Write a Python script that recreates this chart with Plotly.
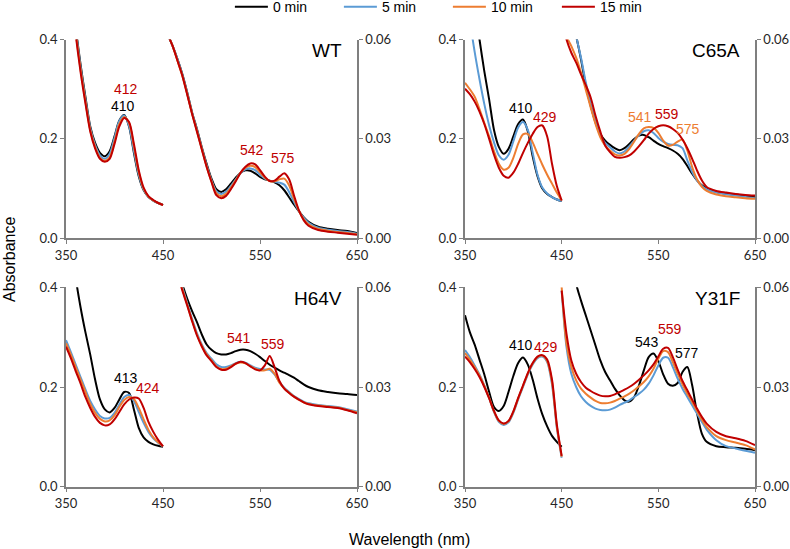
import plotly.graph_objects as go

# ---------------- data ----------------
WL_SORET = [350, 355, 360, 365, 370, 375, 380, 385, 390, 395, 400, 405, 410, 415, 420, 425, 430, 435, 440, 445, 450]
WL_VIS = [450, 455, 460, 465, 470, 475, 480, 485, 490, 495, 500, 505, 510, 515, 520, 525, 530, 535, 540, 545,
          550, 555, 560, 565, 570, 575, 580, 585, 590, 595, 600, 610, 620, 630, 640, 650]

SERIES = ["0 min", "5 min", "10 min", "15 min"]
COLORS = ["#000000", "#5B9BD5", "#ED7D31", "#C00000"]
PANELS = ["WT", "C65A", "H64V", "Y31F"]

X_TICKS = [350, 450, 550, 650]
YL_TICKS = [0, 0.2, 0.4]
YL_LABELS = ["0.0", "0.2", "0.4"]
YR_TICKS = [0, 0.03, 0.06]
YR_LABELS = ["0.00", "0.03", "0.06"]

# WT
WT_S0 = [0.62, 0.52, 0.425, 0.35, 0.285, 0.225, 0.192, 0.172, 0.165, 0.175, 0.205, 0.237, 0.248, 0.225, 0.172, 0.125, 0.097, 0.083, 0.076, 0.071, 0.067]
WT_S5 = [0.62, 0.51, 0.42, 0.345, 0.28, 0.222, 0.188, 0.167, 0.160, 0.170, 0.202, 0.236, 0.247, 0.226, 0.176, 0.128, 0.098, 0.083, 0.076, 0.071, 0.067]
WT_S10 = [0.61, 0.50, 0.415, 0.34, 0.276, 0.218, 0.184, 0.162, 0.156, 0.163, 0.194, 0.230, 0.244, 0.232, 0.185, 0.133, 0.100, 0.084, 0.076, 0.071, 0.067]
WT_S15 = [0.60, 0.50, 0.41, 0.335, 0.272, 0.215, 0.181, 0.160, 0.154, 0.160, 0.190, 0.225, 0.242, 0.234, 0.190, 0.137, 0.102, 0.085, 0.077, 0.071, 0.067]
WT_V0 = [0.066, 0.0615, 0.058, 0.054, 0.0495, 0.044, 0.038, 0.033, 0.0275, 0.0225, 0.0180, 0.0148, 0.0140, 0.0148, 0.0165, 0.0183, 0.0198, 0.0205, 0.0204, 0.0196,
         0.0185, 0.0178, 0.0174, 0.0169, 0.0160, 0.0145, 0.0124, 0.0102, 0.0082, 0.0064, 0.0050, 0.0035, 0.0029, 0.0025, 0.0022, 0.0016]
WT_V5 = [0.066, 0.0615, 0.058, 0.054, 0.0493, 0.0438, 0.0378, 0.0327, 0.0272, 0.0220, 0.0175, 0.0142, 0.0134, 0.0141, 0.0158, 0.0178, 0.0197, 0.0208, 0.0211, 0.0206,
         0.0192, 0.0180, 0.0174, 0.0171, 0.0168, 0.0162, 0.0140, 0.0110, 0.0083, 0.0062, 0.0047, 0.0032, 0.0026, 0.0022, 0.0019, 0.0014]
WT_V10 = [0.066, 0.0615, 0.058, 0.0535, 0.049, 0.0435, 0.0376, 0.0324, 0.0270, 0.0217, 0.0172, 0.0136, 0.0127, 0.0134, 0.0153, 0.0175, 0.0198, 0.0213, 0.0219, 0.0215,
          0.0199, 0.0183, 0.0173, 0.0172, 0.0178, 0.0180, 0.0160, 0.0120, 0.0084, 0.0058, 0.0042, 0.0028, 0.0023, 0.0019, 0.0016, 0.0012]
WT_V15 = [0.066, 0.0615, 0.058, 0.0535, 0.049, 0.0433, 0.0375, 0.0322, 0.0268, 0.0215, 0.0170, 0.0130, 0.0121, 0.0128, 0.0148, 0.0172, 0.0198, 0.0216, 0.0226, 0.0223,
          0.0206, 0.0186, 0.0173, 0.0174, 0.0186, 0.0196, 0.0178, 0.0130, 0.0085, 0.0055, 0.0038, 0.0025, 0.0020, 0.0017, 0.0014, 0.0011]

# C65A
C65A_S0 = [0.70, 0.58, 0.47, 0.40, 0.336, 0.279, 0.218, 0.184, 0.170, 0.180, 0.205, 0.230, 0.239, 0.215, 0.165, 0.125, 0.100, 0.089, 0.083, 0.078, 0.075]
C65A_S5 = [0.52, 0.44, 0.375, 0.32, 0.27, 0.227, 0.193, 0.167, 0.158, 0.168, 0.195, 0.223, 0.234, 0.218, 0.172, 0.128, 0.102, 0.090, 0.083, 0.078, 0.075]
C65A_S10 = [0.313, 0.300, 0.285, 0.26, 0.232, 0.205, 0.175, 0.150, 0.138, 0.142, 0.162, 0.190, 0.209, 0.210, 0.193, 0.170, 0.148, 0.128, 0.110, 0.092, 0.076]
C65A_S15 = [0.301, 0.290, 0.275, 0.255, 0.230, 0.200, 0.168, 0.142, 0.126, 0.122, 0.132, 0.150, 0.172, 0.192, 0.210, 0.224, 0.227, 0.205, 0.150, 0.105, 0.076]
C65A_V0 = [0.085, 0.075, 0.067, 0.061, 0.054, 0.046, 0.040, 0.035, 0.0315, 0.0295, 0.0282, 0.0272, 0.0266, 0.0272, 0.0285, 0.0300, 0.0310, 0.0312, 0.0305, 0.0295,
           0.0285, 0.0278, 0.0272, 0.0265, 0.0255, 0.0240, 0.0218, 0.0195, 0.0175, 0.0160, 0.0150, 0.0140, 0.0135, 0.0132, 0.0128, 0.0124]
C65A_V5 = [0.088, 0.077, 0.068, 0.061, 0.0545, 0.047, 0.0405, 0.0355, 0.031, 0.0288, 0.0275, 0.0262, 0.0256, 0.0262, 0.0277, 0.0295, 0.0312, 0.0323, 0.0326, 0.0318,
           0.0303, 0.0292, 0.0285, 0.0282, 0.0281, 0.0272, 0.0235, 0.0200, 0.0175, 0.0158, 0.0148, 0.0138, 0.0133, 0.0129, 0.0125, 0.0121]
C65A_V10 = [0.070, 0.061, 0.058, 0.0545, 0.050, 0.0448, 0.0395, 0.0345, 0.0305, 0.028, 0.0265, 0.0253, 0.0250, 0.0255, 0.0270, 0.0292, 0.0315, 0.0332, 0.0336, 0.0333,
            0.0318, 0.0295, 0.0280, 0.0282, 0.0292, 0.0298, 0.0265, 0.0215, 0.0178, 0.0155, 0.0143, 0.0132, 0.0127, 0.0124, 0.0121, 0.0119]
C65A_V15 = [0.066, 0.060, 0.056, 0.053, 0.0495, 0.0462, 0.0425, 0.037, 0.0322, 0.028, 0.0260, 0.0246, 0.0243, 0.0245, 0.0250, 0.0262, 0.0278, 0.0296, 0.0316, 0.0330,
            0.0338, 0.0341, 0.0338, 0.0330, 0.0318, 0.0298, 0.0272, 0.0240, 0.0205, 0.0175, 0.0155, 0.0143, 0.0138, 0.0134, 0.0131, 0.0129]

# H64V
H64V_S0 = [0.65, 0.53, 0.42, 0.36, 0.31, 0.265, 0.215, 0.175, 0.155, 0.149, 0.158, 0.175, 0.190, 0.188, 0.155, 0.118, 0.099, 0.090, 0.085, 0.082, 0.080]
H64V_S5 = [0.294, 0.27, 0.245, 0.22, 0.195, 0.172, 0.155, 0.142, 0.137, 0.138, 0.148, 0.165, 0.180, 0.184, 0.172, 0.150, 0.128, 0.110, 0.097, 0.088, 0.081]
H64V_S10 = [0.288, 0.265, 0.240, 0.215, 0.19, 0.166, 0.148, 0.136, 0.131, 0.133, 0.143, 0.160, 0.174, 0.180, 0.176, 0.158, 0.135, 0.114, 0.099, 0.089, 0.081]
H64V_S15 = [0.281, 0.258, 0.232, 0.207, 0.18, 0.158, 0.140, 0.128, 0.123, 0.125, 0.135, 0.150, 0.165, 0.175, 0.179, 0.177, 0.158, 0.130, 0.110, 0.094, 0.081]
H64V_V0 = [0.095, 0.085, 0.076, 0.068, 0.061, 0.0565, 0.0528, 0.0495, 0.0458, 0.0428, 0.0412, 0.0402, 0.0398, 0.0398, 0.0402, 0.0408, 0.0412, 0.0412, 0.0408, 0.0400,
           0.0390, 0.0378, 0.0367, 0.0358, 0.0350, 0.0343, 0.0336, 0.0328, 0.0318, 0.0308, 0.0300, 0.0290, 0.0285, 0.0281, 0.0279, 0.0276]
H64V_V5 = [0.090, 0.080, 0.072, 0.066, 0.060, 0.0552, 0.0505, 0.0462, 0.0428, 0.0402, 0.0385, 0.0368, 0.0360, 0.0360, 0.0365, 0.0372, 0.0376, 0.0373, 0.0365, 0.0358,
           0.0354, 0.0353, 0.0352, 0.0338, 0.0315, 0.0298, 0.0285, 0.0273, 0.0264, 0.0256, 0.0251, 0.0246, 0.0243, 0.0240, 0.0233, 0.0226]
H64V_V10 = [0.089, 0.079, 0.071, 0.065, 0.0595, 0.0548, 0.0500, 0.0458, 0.0424, 0.0398, 0.0380, 0.0362, 0.0354, 0.0355, 0.0362, 0.0370, 0.0374, 0.0371, 0.0363, 0.0355,
            0.0350, 0.0350, 0.0355, 0.0340, 0.0313, 0.0296, 0.0283, 0.0271, 0.0262, 0.0254, 0.0249, 0.0244, 0.0241, 0.0238, 0.0231, 0.0224]
H64V_V15 = [0.088, 0.078, 0.070, 0.064, 0.059, 0.0545, 0.0498, 0.0455, 0.0422, 0.0395, 0.0378, 0.0360, 0.0352, 0.0352, 0.0360, 0.0370, 0.0376, 0.0372, 0.0362, 0.0353,
            0.0350, 0.0365, 0.0393, 0.0360, 0.0318, 0.0295, 0.0282, 0.0271, 0.0262, 0.0254, 0.0248, 0.0243, 0.0240, 0.0237, 0.0230, 0.0221]

# Y31F
Y31F_S0 = [0.344, 0.31, 0.285, 0.255, 0.225, 0.19, 0.16, 0.152, 0.162, 0.190, 0.222, 0.248, 0.259, 0.245, 0.215, 0.177, 0.145, 0.121, 0.102, 0.090, 0.080]
Y31F_S5 = [0.274, 0.26, 0.243, 0.225, 0.203, 0.178, 0.150, 0.130, 0.124, 0.129, 0.148, 0.175, 0.200, 0.225, 0.245, 0.258, 0.261, 0.250, 0.205, 0.118, 0.058]
Y31F_S10 = [0.268, 0.255, 0.240, 0.223, 0.202, 0.178, 0.151, 0.132, 0.126, 0.131, 0.150, 0.177, 0.202, 0.227, 0.247, 0.260, 0.263, 0.252, 0.210, 0.121, 0.060]
Y31F_S15 = [0.261, 0.25, 0.236, 0.22, 0.20, 0.177, 0.152, 0.133, 0.127, 0.132, 0.151, 0.178, 0.203, 0.228, 0.248, 0.261, 0.264, 0.255, 0.215, 0.125, 0.062]
Y31F_V0 = [0.095, 0.080, 0.070, 0.061, 0.056, 0.0515, 0.047, 0.0425, 0.038, 0.0345, 0.032, 0.0295, 0.0275, 0.0260, 0.0256, 0.0270, 0.0305, 0.0350, 0.0390, 0.0401,
           0.0378, 0.0338, 0.0310, 0.0304, 0.0312, 0.0345, 0.0360, 0.0305, 0.0222, 0.0160, 0.0135, 0.0122, 0.0119, 0.0117, 0.0114, 0.0110]
Y31F_V5 = [0.059, 0.042, 0.034, 0.030, 0.0272, 0.0255, 0.0243, 0.0235, 0.0231, 0.0230, 0.0232, 0.0238, 0.0246, 0.0253, 0.0260, 0.0270, 0.0280, 0.0292, 0.0310, 0.0335,
           0.0365, 0.0388, 0.0388, 0.0360, 0.0325, 0.0295, 0.0270, 0.0245, 0.0220, 0.0195, 0.0172, 0.0140, 0.0122, 0.0115, 0.0108, 0.0102]
Y31F_V10 = [0.060, 0.043, 0.036, 0.032, 0.0295, 0.0280, 0.0268, 0.0258, 0.0252, 0.0251, 0.0253, 0.0258, 0.0265, 0.0272, 0.0280, 0.0290, 0.0302, 0.0315, 0.0332, 0.0355,
            0.0385, 0.0408, 0.0405, 0.0375, 0.0340, 0.0308, 0.0280, 0.0255, 0.0228, 0.0202, 0.0180, 0.0152, 0.0140, 0.0133, 0.0125, 0.0112]
Y31F_V15 = [0.059, 0.046, 0.038, 0.034, 0.0315, 0.0298, 0.0288, 0.0280, 0.0274, 0.0272, 0.0273, 0.0278, 0.0285, 0.0292, 0.0300, 0.0310, 0.0322, 0.0335, 0.0350, 0.0368,
            0.0392, 0.0415, 0.0418, 0.0390, 0.0352, 0.0318, 0.0290, 0.0262, 0.0235, 0.0210, 0.0190, 0.0165, 0.0152, 0.0146, 0.0138, 0.0125]

SORET = {"WT": [WT_S0, WT_S5, WT_S10, WT_S15], "C65A": [C65A_S0, C65A_S5, C65A_S10, C65A_S15],
         "H64V": [H64V_S0, H64V_S5, H64V_S10, H64V_S15], "Y31F": [Y31F_S0, Y31F_S5, Y31F_S10, Y31F_S15]}
VIS = {"WT": [WT_V0, WT_V5, WT_V10, WT_V15], "C65A": [C65A_V0, C65A_V5, C65A_V10, C65A_V15],
       "H64V": [H64V_V0, H64V_V5, H64V_V10, H64V_V15], "Y31F": [Y31F_V0, Y31F_V5, Y31F_V10, Y31F_V15]}

# peak labels: (panel, wavelength, left-axis height, text, series index for colour)
PEAK_LABELS = [
    ("WT", 411.9, 0.300, "412", 3), ("WT", 408.8, 0.266, "410", 0),
    ("WT", 541.4, 0.177, "542", 3), ("WT", 573.4, 0.162, "575", 3),
    ("C65A", 407.8, 0.262, "410", 0), ("C65A", 433.0, 0.245, "429", 3),
    ("C65A", 531.0, 0.245, "541", 2), ("C65A", 558.7, 0.250, "559", 3), ("C65A", 580.8, 0.220, "575", 2),
    ("H64V", 411.9, 0.2175, "413", 0), ("H64V", 434.8, 0.199, "424", 3),
    ("H64V", 528.4, 0.299, "541", 3), ("H64V", 563.1, 0.286, "559", 3),
    ("Y31F", 408.1, 0.284, "410", 0), ("Y31F", 433.4, 0.280, "429", 3),
    ("Y31F", 537.9, 0.291, "543", 0), ("Y31F", 562.1, 0.316, "559", 3), ("Y31F", 580.1, 0.269, "577", 0),
]

# ---------------- layout geometry ----------------
W, H = 790, 549
X_DOMAINS = [(66, 357), (465, 755), (66, 357), (465, 755)]
Y_DOMAINS = [(39.5, 238.3), (39.5, 238.3), (287.3, 486.7), (287.3, 486.7)]

AXIS_COLOR = "#7f7f7f"
TICK_FONT = dict(family="Lato, Open Sans, sans-serif", size=13, color="#262626")
TEXT_FONT = "Liberation Sans, Arial, sans-serif"

fig = go.Figure()
layout = dict(
    template="none",
    width=W, height=H, margin=dict(l=0, r=0, t=0, b=0, pad=0, autoexpand=False),
    paper_bgcolor="white", plot_bgcolor="rgba(0,0,0,0)",
    showlegend=True,
    legend=dict(orientation="h", x=0.291, xanchor="left", y=1.016, yanchor="top",
                font=dict(family=TEXT_FONT, size=14, color="#000000"),
                entrywidth=61, entrywidthmode="pixels", itemwidth=33,
                bgcolor="rgba(0,0,0,0)", traceorder="normal"),
)
annotations = []

for i, panel in enumerate(PANELS):
    n = i + 1
    xa = "x" if n == 1 else f"x{n}"
    yl_id = 2 * i + 1
    yr_id = 2 * i + 2
    yl = "y" if yl_id == 1 else f"y{yl_id}"
    yr = f"y{yr_id}"
    x0, x1 = X_DOMAINS[i]
    ytop, ybot = Y_DOMAINS[i]
    xdom = [x0 / W, x1 / W]
    ydom = [1 - ybot / H, 1 - ytop / H]

    common = dict(ticks="outside", ticklen=4, tickcolor=AXIS_COLOR, showline=True, linecolor=AXIS_COLOR,
                  linewidth=1.5, showgrid=False, zeroline=False, tickfont=TICK_FONT, automargin=False)
    layout["xaxis" if n == 1 else f"xaxis{n}"] = dict(
        domain=xdom, range=[350, 650], anchor=yl, tickvals=X_TICKS, **common)
    layout["yaxis" if yl_id == 1 else f"yaxis{yl_id}"] = dict(
        domain=ydom, range=[0, 0.4], anchor=xa, tickvals=YL_TICKS, ticktext=YL_LABELS, **common)
    layout[f"yaxis{yr_id}"] = dict(
        domain=ydom, range=[0, 0.06], anchor=xa, overlaying=yl, side="right", tickvals=YR_TICKS,
        ticktext=YR_LABELS, **common)

    for s in range(4):
        fig.add_trace(go.Scatter(
            x=WL_SORET, y=SORET[panel][s], xaxis=xa, yaxis=yl, mode="lines",
            line=dict(color=COLORS[s], width=2, shape="spline", smoothing=0.8),
            name=SERIES[s], showlegend=(i == 0), hoverinfo="skip"))
        fig.add_trace(go.Scatter(
            x=WL_VIS, y=VIS[panel][s], xaxis=xa, yaxis=yr, mode="lines",
            line=dict(color=COLORS[s], width=2, shape="spline", smoothing=0.8),
            name=SERIES[s], showlegend=False, hoverinfo="skip"))

    # panel name
    annotations.append(dict(x=637, y=0.378, xref=xa, yref=yl, text=panel, showarrow=False,
                            xanchor="right", yanchor="middle",
                            font=dict(family=TEXT_FONT, size=19, color="#000000")))

for panel, wl, h, txt, s in PEAK_LABELS:
    i = PANELS.index(panel)
    n = i + 1
    xa = "x" if n == 1 else f"x{n}"
    yl_id = 2 * i + 1
    yl = "y" if yl_id == 1 else f"y{yl_id}"
    annotations.append(dict(x=wl, y=h, xref=xa, yref=yl, text=txt, showarrow=False,
                            xanchor="center", yanchor="middle",
                            font=dict(family=TEXT_FONT, size=14, color=COLORS[s])))

annotations.append(dict(x=10 / W, y=1 - 260 / H, xref="paper", yref="paper", text="Absorbance",
                        showarrow=False, textangle=-90, xanchor="center", yanchor="middle",
                        font=dict(family=TEXT_FONT, size=16, color="#000000")))
annotations.append(dict(x=409 / W, y=1 - 539 / H, xref="paper", yref="paper", text="Wavelength (nm)",
                        showarrow=False, xanchor="center", yanchor="middle",
                        font=dict(family=TEXT_FONT, size=16, color="#000000")))

layout["annotations"] = annotations
fig.update_layout(**layout)
fig.write_html("out.html")
